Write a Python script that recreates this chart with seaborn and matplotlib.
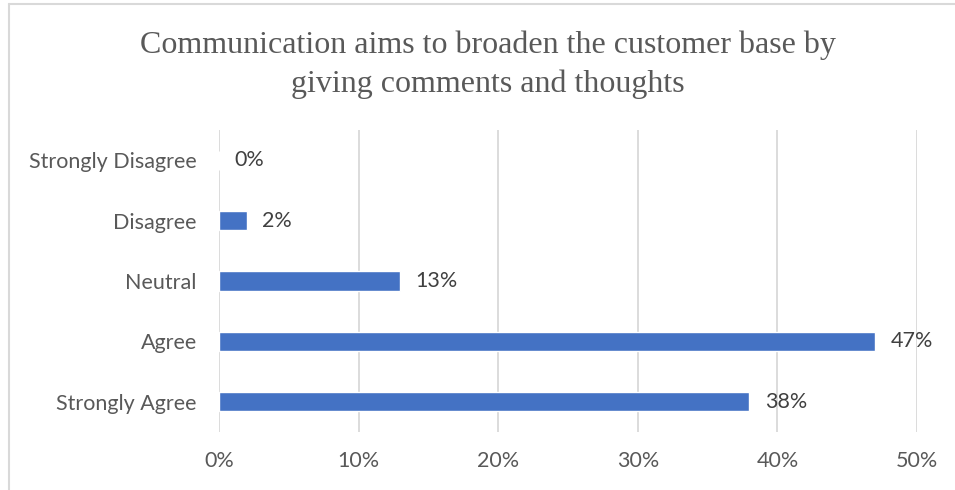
import matplotlib
matplotlib.use("Agg")
import matplotlib.pyplot as plt
from matplotlib.lines import Line2D
from matplotlib.ticker import MultipleLocator, PercentFormatter
import seaborn as sns
import pandas as pd

# Survey responses
categories = ["Strongly Disagree", "Disagree", "Neutral", "Agree", "Strongly Agree"]
shares = [0, 2, 13, 47, 38]  # percent of respondents
title = "Communication aims to broaden the customer base by\ngiving comments and thoughts"

df = pd.DataFrame({"response": categories, "share": [v / 100 for v in shares]})

sns.set_theme(style="white")
plt.rcParams["font.family"] = ["Lato", "DejaVu Sans"]

fig = plt.figure(figsize=(9.55, 4.9), dpi=100)
ax = fig.add_axes([219 / 955, 1 - 432 / 490, (917 - 219) / 955, (432 - 130) / 490])

sns.barplot(data=df, y="response", x="share", order=categories, orient="h",
            color="#4472C4", saturation=1, width=0.32, ax=ax)

ax.set_xlim(0, 0.5)
ax.xaxis.set_major_locator(MultipleLocator(0.1))
ax.xaxis.set_major_formatter(PercentFormatter(1.0, decimals=0))
ax.grid(axis="x", color="#D9D9D9", linewidth=1.3)
ax.set_axisbelow(True)
for s in ax.spines.values():
    s.set_visible(False)
ax.set_xlabel("")
ax.set_ylabel("")
ax.tick_params(axis="both", length=0, labelsize=15.5, colors="#595959")
ax.tick_params(axis="y", pad=16)
ax.tick_params(axis="x", pad=14)

for container in ax.containers:
    ax.bar_label(container, labels=[f"{v}%" for v in shares], padding=11,
                 fontsize=15.5, color="#404040")

fig.text(488 / 955, 1 - 65 / 490, title, ha="center", va="center",
         family=["Liberation Serif", "DejaVu Serif"], fontsize=23,
         color="#595959", linespacing=1.4)

# light frame around the chart area
fig.add_artist(Line2D([8.5 / 955, 8.5 / 955], [0, 1 - 4.5 / 490],
                      transform=fig.transFigure, color="#D9D9D9", linewidth=1.5))
fig.add_artist(Line2D([8.5 / 955, 1], [1 - 4.5 / 490, 1 - 4.5 / 490],
                      transform=fig.transFigure, color="#D9D9D9", linewidth=1.5))

fig.savefig("out.png", dpi=100, facecolor="white")
